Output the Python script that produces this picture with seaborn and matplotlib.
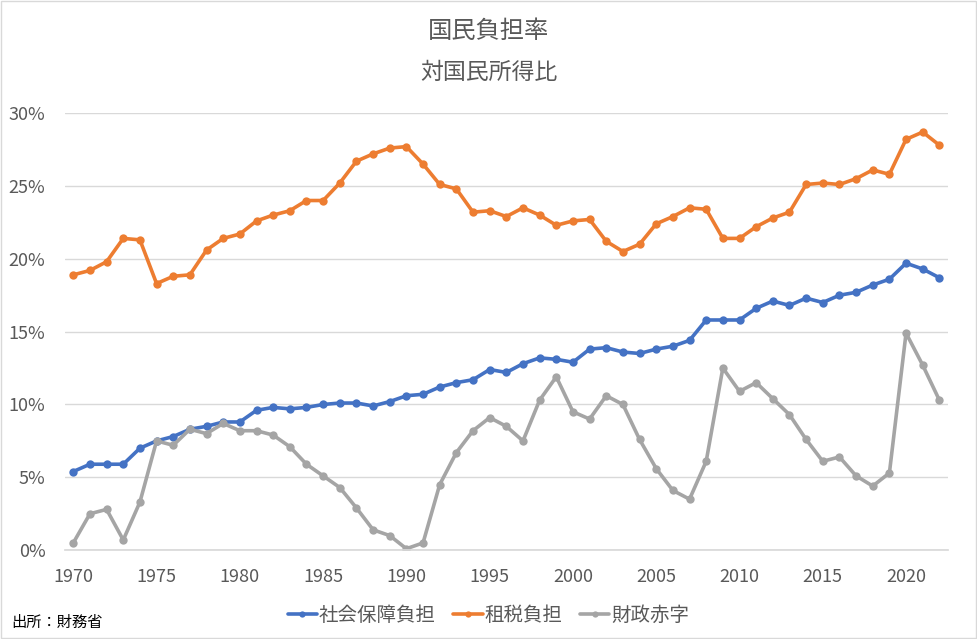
import pandas as pd
import matplotlib.pyplot as plt
import seaborn as sns
import numpy as np
from matplotlib.ticker import FuncFormatter, MultipleLocator

years = list(range(1970, 2023))

# 社会保障負担 (%)
social = [5.4, 5.9, 5.9, 5.9, 7.0, 7.5, 7.8, 8.3, 8.5, 8.8,
          8.8, 9.6, 9.8, 9.7, 9.8, 10.0, 10.1, 10.1, 9.9, 10.2,
          10.6, 10.7, 11.2, 11.5, 11.7, 12.4, 12.2, 12.8, 13.2, 13.1,
          12.9, 13.8, 13.9, 13.6, 13.5, 13.8, 14.0, 14.4, 15.8, 15.8,
          15.8, 16.6, 17.1, 16.8, 17.3, 17.0, 17.5, 17.7, 18.2, 18.6,
          19.7, 19.3, 18.7]

# 租税負担 (%)
tax = [18.9, 19.2, 19.8, 21.4, 21.3, 18.3, 18.8, 18.9, 20.6, 21.4,
       21.7, 22.6, 23.0, 23.3, 24.0, 24.0, 25.2, 26.7, 27.2, 27.6,
       27.7, 26.5, 25.1, 24.8, 23.2, 23.3, 22.9, 23.5, 23.0, 22.3,
       22.6, 22.7, 21.2, 20.5, 21.0, 22.4, 22.9, 23.5, 23.4, 21.4,
       21.4, 22.2, 22.8, 23.2, 25.1, 25.2, 25.1, 25.5, 26.1, 25.8,
       28.2, 28.7, 27.8]

# 財政赤字 (%)
deficit = [0.5, 2.5, 2.8, 0.7, 3.3, 7.5, 7.2, 8.3, 8.0, 8.7,
           8.2, 8.2, 7.9, 7.1, 5.9, 5.1, 4.3, 2.9, 1.4, 1.0,
           0.1, 0.5, 4.5, 6.7, 8.2, 9.1, 8.5, 7.5, 10.3, 11.9,
           9.5, 9.0, 10.6, 10.0, 7.6, 5.6, 4.1, 3.5, 6.1, 12.5,
           10.9, 11.5, 10.4, 9.3, 7.6, 6.1, 6.4, 5.1, 4.4, 5.3,
           14.9, 12.7, 10.3]

series_names = ["社会保障負担", "租税負担", "財政赤字"]
colors = ["#4472C4", "#ED7D31", "#A5A5A5"]

df = pd.DataFrame({"年": years, series_names[0]: social,
                   series_names[1]: tax, series_names[2]: deficit})
long = df.melt(id_vars="年", var_name="項目", value_name="値")

sns.set_theme(style="white")
plt.rcParams["font.family"] = ["Noto Sans CJK JP", "DejaVu Sans"]

fig = plt.figure(figsize=(9.77, 6.39), dpi=100)
ax = fig.add_axes([0.0665, 0.139, 0.9035, 0.684])

sns.lineplot(data=long, x="年", y="値", hue="項目", palette=colors,
             hue_order=series_names, marker="o", markersize=6,
             markeredgewidth=0, linewidth=2.6, ax=ax, legend=True)

ax.set_xlim(1969.5, 2022.5)
ax.set_ylim(0, 30)
ax.yaxis.set_major_locator(MultipleLocator(5))
ax.xaxis.set_major_locator(MultipleLocator(5))
ax.yaxis.set_major_formatter(FuncFormatter(lambda v, p: f"{v:.0f}%"))
ax.grid(axis="y", color="#d9d9d9", linewidth=1)
ax.set_axisbelow(True)
for s in ["left", "right", "top"]:
    ax.spines[s].set_visible(False)
ax.spines["bottom"].set_color("#d9d9d9")
ax.tick_params(axis="both", length=0, labelsize=13, colors="#595959")
ax.tick_params(axis="x", pad=13)
ax.tick_params(axis="y", pad=14)
ax.set_xlabel("")
ax.set_ylabel("")

handles, labels = ax.get_legend_handles_labels()
ax.legend(handles, labels, loc="center", bbox_to_anchor=(0.5, 0.037),
          bbox_transform=fig.transFigure, ncol=3, frameon=False,
          fontsize=14, labelcolor="#595959", handlelength=1.5,
          handletextpad=0.1, columnspacing=0.9, markerscale=0.75)

fig.text(0.5, 0.952, "国民負担率", ha="center", va="center",
         fontsize=17.5, color="#595959")
fig.text(0.5, 0.886, "対国民所得比", ha="center", va="center",
         fontsize=16.5, color="#595959")
fig.text(0.012, 0.026, "出所：財務省", ha="left", va="center",
         fontsize=11, color="black")

fig.patches.append(plt.Rectangle((0.001, 0.001), 0.998, 0.998,
                                 transform=fig.transFigure, fill=False,
                                 edgecolor="#d9d9d9", linewidth=1))

plt.savefig("out.png", dpi=100)
